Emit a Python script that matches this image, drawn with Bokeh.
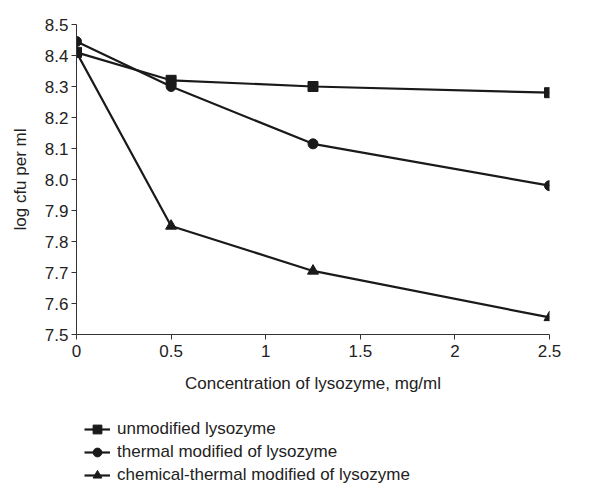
from bokeh.plotting import figure
from bokeh.layouts import column
from bokeh.models import Legend, LegendItem, FixedTicker, PrintfTickFormatter
from bokeh.embed import file_html
from bokeh.resources import INLINE

conc = [0, 0.5, 1.25, 2.5]
unmodified = [8.41, 8.32, 8.30, 8.28]
thermal = [8.445, 8.30, 8.115, 7.98]
chemical = [8.41, 7.85, 7.705, 7.555]
labels = ["unmodified lysozyme", "thermal modified of lysozyme", "chemical-thermal modified of lysozyme"]
x_ticks = [0, 0.5, 1, 1.5, 2, 2.5]
y_ticks = [7.5, 7.6, 7.7, 7.8, 7.9, 8.0, 8.1, 8.2, 8.3, 8.4, 8.5]

FONT = "Liberation Sans"
col = "#1a1a1a"
txt = "#222222"

p = figure(frame_width=473, frame_height=310, x_range=(0, 2.5), y_range=(7.5, 8.5),
           output_backend="svg", toolbar_location=None,
           min_border_left=76, min_border_top=24, min_border_right=62, min_border_bottom=73)
p.outline_line_color = None
p.grid.grid_line_color = None

p.line(conc, unmodified, line_color=col, line_width=2.2)
p.scatter(conc, unmodified, marker="square", size=10, color=col)
p.line(conc, thermal, line_color=col, line_width=2.2)
p.scatter(conc, thermal, marker="circle", size=10, color=col)
p.line(conc, chemical, line_color=col, line_width=2.2)
p.scatter(conc, chemical, marker="triangle", size=11, color=col)

for ax in (p.xaxis, p.yaxis):
    ax.axis_line_color = "#333333"
    ax.major_tick_line_color = "#333333"
    ax.minor_tick_line_color = None
    ax.major_tick_in = 0
    ax.major_tick_out = 5
    ax.major_label_text_font = FONT
    ax.major_label_text_font_size = "17px"
    ax.major_label_text_color = txt
    ax.axis_label_text_font = FONT
    ax.axis_label_text_font_size = "17px"
    ax.axis_label_text_font_style = "normal"
    ax.axis_label_text_color = txt

p.xaxis.ticker = FixedTicker(ticks=x_ticks)
p.xaxis.major_label_overrides = {t: f"{t:g}" for t in x_ticks}
p.xaxis.major_label_standoff = 5
p.yaxis.ticker = FixedTicker(ticks=y_ticks)
p.yaxis.formatter = PrintfTickFormatter(format="%.1f")
p.yaxis.major_label_standoff = 3
p.xaxis.axis_label = "Concentration of lysozyme, mg/ml"
p.yaxis.axis_label = "log cfu per ml"
p.xaxis.axis_label_standoff = 14
p.yaxis.axis_label_standoff = 12

# legend panel: a separate axis-less figure below the chart; proxy glyphs lie outside its ranges
p2 = figure(width=611, height=80, x_range=(0, 1), y_range=(0, 1),
            x_axis_type=None, y_axis_type=None, output_backend="svg", toolbar_location=None,
            min_border=0)
p2.outline_line_color = None
p2.grid.grid_line_color = None
px, py = [-10, -9], [-10, -10]
k1 = p2.line(px, py, line_color=col, line_width=2.2)
g1 = p2.scatter(px, py, marker="square", size=5, color=col)
k2 = p2.line(px, py, line_color=col, line_width=2.2)
g2 = p2.scatter(px, py, marker="circle", size=5, color=col)
k3 = p2.line(px, py, line_color=col, line_width=2.2)
g3 = p2.scatter(px, py, marker="triangle", size=6, color=col)

legend = Legend(items=[LegendItem(label=labels[0], renderers=[k1, g1]),
                       LegendItem(label=labels[1], renderers=[k2, g2]),
                       LegendItem(label=labels[2], renderers=[k3, g3])],
                location=(8, 1), orientation="vertical",
                label_text_font=FONT, label_text_font_size="17px", label_text_color=txt,
                glyph_width=26, glyph_height=22, label_height=22, spacing=1, padding=0,
                margin=0, border_line_color=None, background_fill_alpha=0,
                label_standoff=7)
p2.add_layout(legend, "center")

layout = column(p, p2, spacing=0)
open("out.html", "w").write(file_html(layout, INLINE))
